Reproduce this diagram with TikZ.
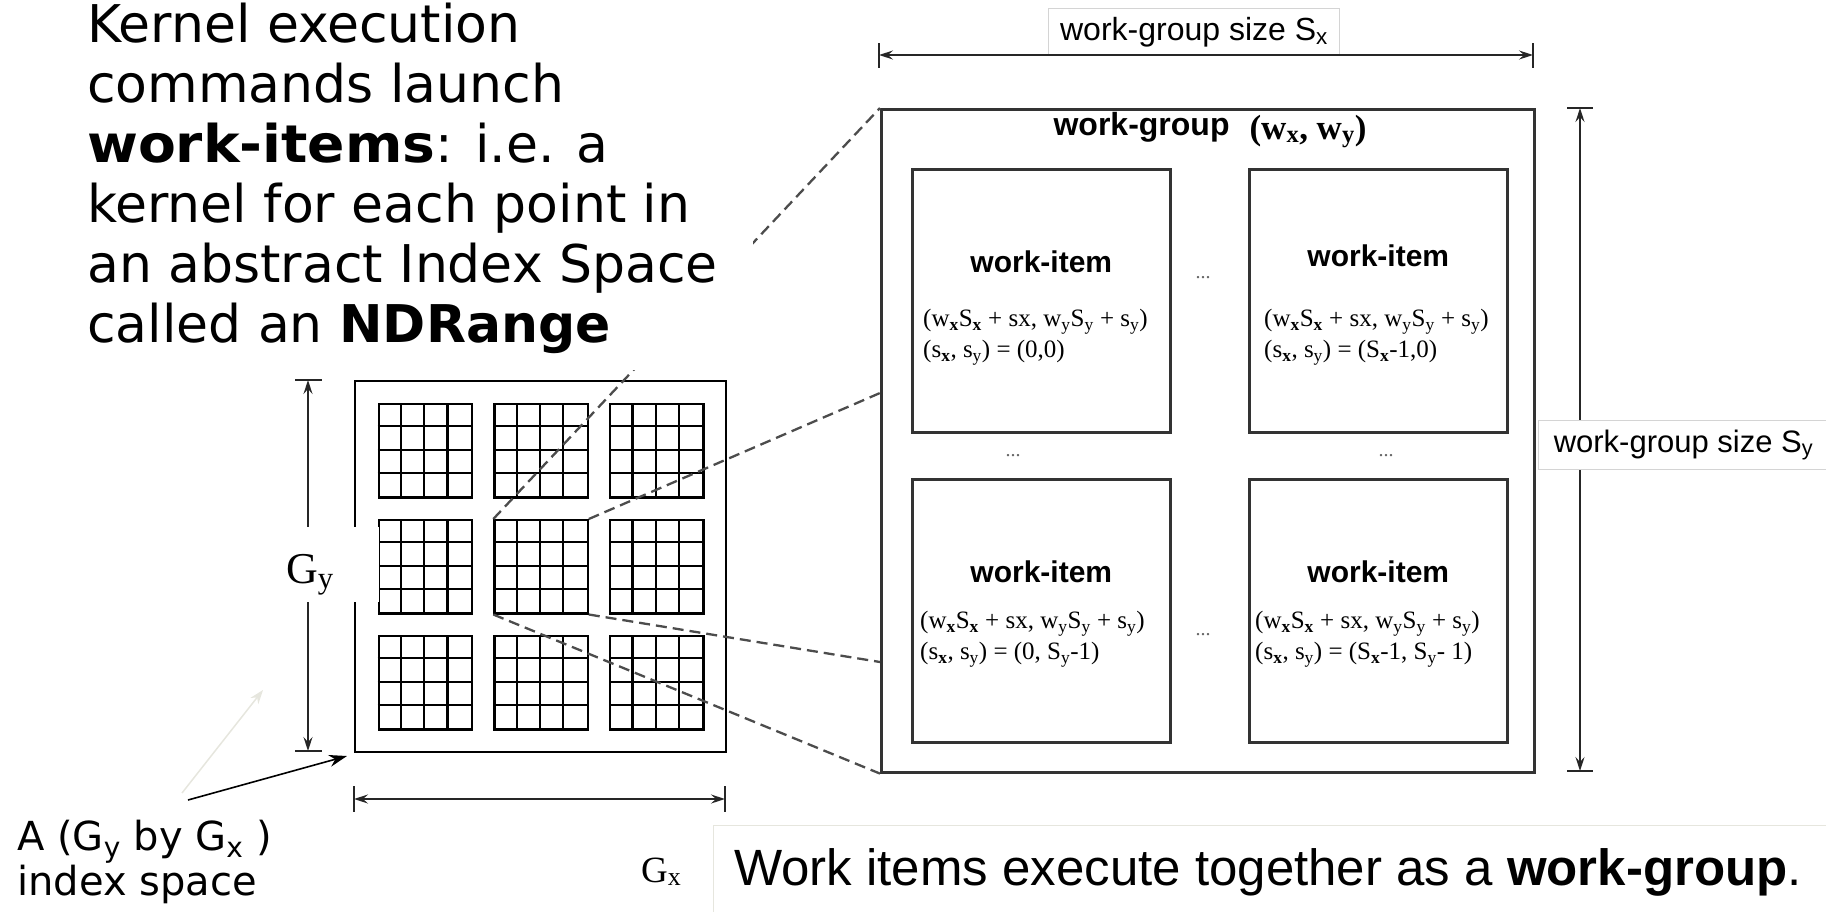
\documentclass[tikz,border=0pt]{standalone}
\usepackage{fontspec}
\usepackage{graphicx}
\usetikzlibrary{arrows.meta}
\newfontfamily\vfont{DejaVu Sans}
\newfontfamily\hfont{Liberation Sans}
\newfontfamily\tfont{Liberation Serif}
\newcommand\fsz[1]{\fontsize{#1}{#1}\selectfont}
\definecolor{faint}{RGB}{230,230,222}
\definecolor{lblgray}{RGB}{212,212,212}
\begin{document}
\begin{tikzpicture}[x=1pt,y=-1pt,
  dimline/.style={line width=1.8pt, draw=black!85, {Stealth[length=14pt,width=9pt,inset=5pt]}-{Stealth[length=14pt,width=9pt,inset=5pt]}},
  tickline/.style={line width=1.8pt, draw=black!85},
  blk/.style={draw, line width=2.2pt, minimum size=93.3pt, inner sep=0pt, anchor=north west},
  gridline/.style={line width=2.2pt},
  wibox/.style={draw=black!80, line width=2.6pt, minimum width=258pt, minimum height=263pt, anchor=north west, inner sep=0pt},
  dashline/.style={draw=black!70, line width=2.3pt, dash pattern=on 11pt off 6pt},
  witem/.style={font=\hfont\bfseries\fsz{30}, anchor=base, inner sep=0pt},
  formula/.style={font=\tfont\fontsize{25}{31}\selectfont, align=left, anchor=north west, inner sep=0pt},
  lbl/.style={draw=lblgray, line width=1pt, fill=white, inner sep=0pt, anchor=north west},
  dotsn/.style={font=\tfont\fsz{20}, text=black!60, inner sep=0pt},
  cover/.style={fill=white, inner sep=0pt, draw=none},
]
\useasboundingbox (0,0) rectangle (1826,911);

% ---------- NDRange index space ----------
\node[draw, line width=2.2pt, minimum size=371pt, inner sep=0pt, anchor=north west] (ndr) at (354,380) {};
\foreach \i in {0,1,2} {
  \foreach \j in {0,1,2} {
    \pgfmathsetmacro\xa{377.5+115.8*\i}
    \pgfmathsetmacro\ya{403+116*\j}
    \node[blk] (b\i\j) at (\xa,\ya) {};
    \foreach \k in {1,2,3} {
      \draw[gridline] (\xa+23.325*\k,\ya) -- ++(0,93.3);
      \draw[gridline] (\xa,\ya+23.325*\k) -- ++(93.3,0);
    }
  }
}

% ---------- work-group ----------
\node[draw=black!80, line width=2.6pt, minimum width=653pt, minimum height=663pt, anchor=north west, inner sep=0pt] (wg) at (880,108) {};
\coordinate (wgA) at (880,393);
\coordinate (wgB) at (880,662);
\draw[dashline] (b11.north west) -- (wg.north west);
\draw[dashline] (b11.north east) -- (wgA);
\draw[dashline] (b11.south east) -- (wgB);
\draw[dashline] (b11.south west) -- (wg.south west);

% ---------- text block (white background hides the dashed line) ----------
\node[cover, minimum width=753pt, minimum height=370pt, anchor=north west] (txtcover) at (0,0) {};
\node[anchor=north west, align=left, inner sep=0pt, font=\vfont\fontsize{52}{60}\selectfont] (kernel) at (87,3)
  {Kernel execution\\commands launch\\\scalebox{1.06}[1]{\textbf{work-items}}: i.e. a\\kernel for each point in\\an abstract Index Space\\called an \textbf{NDRange}};

% ---------- G_y dimension ----------
\coordinate (gyT) at (308,380);
\coordinate (gyB) at (308,751);
\draw[dimline] (gyT) -- (gyB);
\draw[tickline] (295,380) -- (322,380);
\draw[tickline] (295,751) -- (322,751);
\node[cover, minimum width=84pt, minimum height=75pt] (gycov) at (337,564.5) {};
\node[anchor=base west, inner sep=0pt, font=\tfont\fsz{44}] (gy) at (286,583) {G\textsubscript{y}};

% ---------- G_x dimension ----------
\coordinate (gxL) at (354,799);
\coordinate (gxR) at (725,799);
\draw[dimline] (gxL) -- (gxR);
\draw[tickline] (354,786) -- (354,812);
\draw[tickline] (725,786) -- (725,812);
\node[anchor=base west, inner sep=0pt, font=\tfont\fsz{37}] (gx) at (641,882) {G\textsubscript{x}};

% ---------- index space label ----------
\coordinate (fA) at (182,793);
\coordinate (fB) at (263,690);
\draw[draw=faint, line width=1.5pt, -{Stealth[length=14pt,width=10pt]}] (fA) -- (fB);
\node[anchor=north west, align=left, inner sep=0pt, font=\vfont\fontsize{40}{45}\selectfont] (alabel) at (17,820)
  {A (G\textsubscript{y} by G\textsubscript{x} )\\index space};
\coordinate (atail) at (188,800);
\coordinate (ahead) at (347,756);
\draw[line width=1.6pt, -{Stealth[length=18pt,width=12pt]}] (atail) -- (ahead);

% ---------- S_x dimension ----------
\node[lbl, minimum width=291pt, minimum height=47pt, font=\hfont\fsz{32}] (sxl) at (1048,8) {work-group size S\textsubscript{x}};
\coordinate (sxL) at (879,55);
\coordinate (sxR) at (1533,55);
\draw[dimline] (sxL) -- (sxR);
\draw[tickline] (879,43) -- (879,68);
\draw[tickline] (1533,43) -- (1533,68);

% ---------- S_y dimension ----------
\coordinate (syT) at (1580,108);
\coordinate (syB) at (1580,771);
\draw[dimline] (syT) -- (syB);
\draw[tickline] (1567,108) -- (1593,108);
\draw[tickline] (1567,771) -- (1593,771);
\node[lbl, minimum width=290pt, minimum height=49pt, font=\hfont\fsz{31}] (syl) at (1538,420) {work-group size S\textsubscript{y}};

% ---------- work-group title ----------
\node[anchor=base, inner sep=0pt] (wgt) at (1210,139)
  {\raisebox{4pt}{\hfont\bfseries\fsz{32}work-group}\hspace{20pt}{\tfont\bfseries\fsz{35}(w\textsubscript{x}, w\textsubscript{y})}};

% ---------- work-items ----------
\node[wibox] (wi1) at (911,168) {};
\node[wibox] (wi2) at (1248,168) {};
\node[wibox] (wi3) at (911,478) {};
\node[wibox] (wi4) at (1248,478) {};
\node[witem] (t1) at ([yshift=-104pt]wi1.north) {work-item};
\node[witem] (t2) at ([yshift=-98pt]wi2.north) {work-item};
\node[witem] (t3) at ([yshift=-104pt]wi3.north) {work-item};
\node[witem] (t4) at ([yshift=-104pt]wi4.north) {work-item};
\node[formula] (f1) at ([xshift=12pt,yshift=-141pt]wi1.north west)
  {(w\textsubscript{\textbf{x}}S\textsubscript{\textbf{x}} + sx, w\textsubscript{y}S\textsubscript{y} + s\textsubscript{y})\\(s\textsubscript{\textbf{x}}, s\textsubscript{y}) = (0,0)};
\node[formula] (f2) at ([xshift=16pt,yshift=-141pt]wi2.north west)
  {(w\textsubscript{\textbf{x}}S\textsubscript{\textbf{x}} + sx, w\textsubscript{y}S\textsubscript{y} + s\textsubscript{y})\\(s\textsubscript{\textbf{x}}, s\textsubscript{y}) = (S\textsubscript{\textbf{x}}-1,0)};
\node[formula] (f3) at ([xshift=9pt,yshift=-133pt]wi3.north west)
  {(w\textsubscript{\textbf{x}}S\textsubscript{\textbf{x}} + sx, w\textsubscript{y}S\textsubscript{y} + s\textsubscript{y})\\(s\textsubscript{\textbf{x}}, s\textsubscript{y}) = (0, S\textsubscript{y}-1)};
\node[formula] (f4) at ([xshift=7pt,yshift=-133pt]wi4.north west)
  {(w\textsubscript{\textbf{x}}S\textsubscript{\textbf{x}} + sx, w\textsubscript{y}S\textsubscript{y} + s\textsubscript{y})\\(s\textsubscript{\textbf{x}}, s\textsubscript{y}) = (S\textsubscript{\textbf{x}}-1, S\textsubscript{y}- 1)};
\node[dotsn] (d1) at (1203,278) {...};
\node[dotsn] (d2) at (1203,635) {...};
\node[dotsn] (d3) at (1013,456) {...};
\node[dotsn] (d4) at (1386,456) {...};

% ---------- bottom caption ----------
\node[draw=faint, line width=1pt, fill=white, minimum width=1125pt, minimum height=95pt, anchor=north west, inner sep=0pt] (capbox) at (713,825) {};
\node[anchor=base west, inner sep=0pt, font=\hfont\fsz{51}] (cap) at (734,885) {Work items execute together as a \textbf{work-group}.};
\end{tikzpicture}
\end{document}
